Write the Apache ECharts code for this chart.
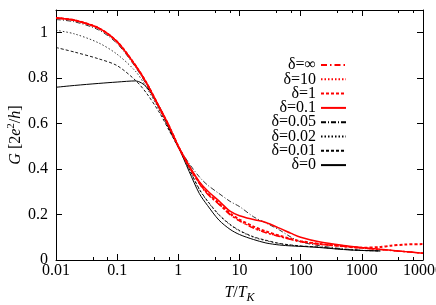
<!DOCTYPE html>
<html><head><meta charset="utf-8">
<script src="https://cdn.jsdelivr.net/npm/echarts@6/dist/echarts.min.js"></script>
<style>html,body{margin:0;padding:0;background:#fff}#c{width:436px;height:305px}</style>
</head><body><div id="c"></div>
<script>
// Temperature grid T/T_K
const T = [0.01, 0.02, 0.05, 0.1, 0.2, 0.3, 0.5, 0.7, 1, 1.5, 2.2, 3, 4.6, 7, 10, 17, 27, 45, 70, 100, 200, 500, 1000, 2000, 3000, 5000, 10000];
// Conductance G [2e^2/h] for each delta
const G_inf  = [1.065, 1.055, 1.02, 0.96, 0.855, 0.78, 0.665, 0.59, 0.5, 0.41, 0.337, 0.29, 0.245, 0.2, 0.172, 0.14, 0.12, 0.103, 0.09, 0.08, 0.07, 0.06, 0.053, 0.046, 0.042, 0.037, 0.03];
const G_10   = [1.065, 1.055, 1.02, 0.96, 0.855, 0.78, 0.665, 0.59, 0.5, 0.41, 0.338, 0.291, 0.246, 0.201, 0.173, 0.141, 0.121, 0.104, 0.09, 0.081, 0.07, 0.06, 0.053, 0.046, 0.042, 0.037, 0.03];
const G_1    = [1.065, 1.055, 1.02, 0.96, 0.855, 0.78, 0.666, 0.591, 0.5, 0.412, 0.34, 0.295, 0.25, 0.205, 0.178, 0.147, 0.126, 0.107, 0.093, 0.083, 0.071, 0.06, 0.054, 0.057, 0.063, 0.068, 0.07];
const G_01   = [1.065, 1.055, 1.02, 0.96, 0.855, 0.78, 0.668, 0.592, 0.5, 0.415, 0.345, 0.305, 0.26, 0.215, 0.195, 0.178, 0.165, 0.14, 0.117, 0.1, 0.08, 0.064, 0.055, 0.047, 0.043, 0.037, 0.03];
const G_005  = [1.058, 1.048, 1.012, 0.952, 0.848, 0.772, 0.66, 0.585, 0.5, 0.425, 0.366, 0.33, 0.293, 0.258, 0.235, 0.19, 0.163, 0.132, 0.1, 0.08, 0.063, 0.049, 0.043, 0.04, null, null, null];
const G_002  = [1.011, 0.995, 0.955, 0.905, 0.83, 0.76, 0.655, 0.575, 0.495, 0.4, 0.31, 0.258, 0.198, 0.155, 0.128, 0.1, 0.085, 0.072, 0.065, 0.061, 0.056, 0.047, 0.042, 0.04, null, null, null];
const G_001  = [0.935, 0.915, 0.885, 0.855, 0.79, 0.735, 0.645, 0.572, 0.495, 0.402, 0.312, 0.26, 0.2, 0.157, 0.13, 0.102, 0.087, 0.073, 0.066, 0.062, 0.057, 0.047, 0.042, 0.04, null, null, null];
const G_0    = [0.76, 0.768, 0.777, 0.783, 0.788, 0.762, 0.67, 0.58, 0.498, 0.39, 0.293, 0.24, 0.176, 0.135, 0.112, 0.09, 0.075, 0.066, 0.062, 0.06, 0.055, 0.046, 0.042, 0.04, null, null, null];
const names = ['δ=∞', 'δ=10', 'δ=1', 'δ=0.1', 'δ=0.05', 'δ=0.02', 'δ=0.01', 'δ=0'];
const values = [G_inf, G_10, G_1, G_01, G_005, G_002, G_001, G_0];

const FONT = 'Liberation Serif';
const styles = [
  {color: '#ff0000', width: 1.5, type: [6, 3, 1.5, 3]},
  {color: '#ff0000', width: 1.3, type: [1.5, 2]},
  {color: '#ff0000', width: 2, type: [3, 2]},
  {color: '#ff0000', width: 1.5, type: 'solid'},
  {color: '#000000', width: 0.8, type: [5, 2, 1, 2]},
  {color: '#000000', width: 0.8, type: [1.5, 2]},
  {color: '#000000', width: 0.9, type: [3, 2]},
  {color: '#000000', width: 1, type: 'solid'}
];

const chart = echarts.init(document.getElementById('c'), null, {renderer: 'canvas'});
const tickStyle = {inside: true, length: 6, lineStyle: {color: '#000', width: 1}};
const lineStyleAxis = {show: true, onZero: false, lineStyle: {color: '#000', width: 1}};
const series = names.map((n, i) => ({
  name: n,
  type: 'line',
  xAxisIndex: 0,
  yAxisIndex: 0,
  data: T.map((t, j) => [t, values[i][j]]),
  symbol: 'none',
  showSymbol: false,
  smooth: 0.3,
  color: styles[i].color,
  lineStyle: {color: styles[i].color, width: styles[i].width, type: styles[i].type},
  z: i < 4 ? 3 : 2,
  animation: false
}));

chart.setOption({
  animation: false,
  backgroundColor: '#fff',
  grid: {left: 56, right: 13, top: 10, bottom: 45, containLabel: false, outerBoundsMode: 'none'},
  legend: {
    orient: 'vertical', align: 'right', right: 89, top: 57, padding: 0,
    itemWidth: 25, itemHeight: 2, itemGap: -1.7,
    itemStyle: {opacity: 0},
    data: names,
    textStyle: {fontFamily: FONT, fontSize: 16, color: '#000', lineHeight: 14}
  },
  xAxis: [{
    type: 'log', logBase: 10, min: 0.01, max: 10000, splitNumber: 6, position: 'bottom',
    axisLine: lineStyleAxis, axisTick: tickStyle,
    minorTick: {show: true, splitNumber: 3, length: 3, lineStyle: {color: '#000', width: 1}},
    splitLine: {show: false}, minorSplitLine: {show: false},
    axisLabel: {fontFamily: FONT, fontSize: 16, color: '#000', margin: 3, hideOverlap: false,
      formatter: v => String(+Number(v).toPrecision(6))},
    name: '{i|T}/{i|T}{sub|K}', nameLocation: 'middle', nameGap: 22, nameMoveOverlap: false,
    nameTextStyle: {fontFamily: FONT, fontSize: 16, color: '#000',
      rich: {i: {fontFamily: FONT, fontStyle: 'italic', fontSize: 16, color: '#000'},
             sub: {fontFamily: FONT, fontStyle: 'italic', fontSize: 12, color: '#000', verticalAlign: 'bottom', padding: [10, 0, 0, 0]}}}
  }, {
    type: 'log', logBase: 10, min: 0.01, max: 10000, splitNumber: 6, position: 'top',
    axisLine: lineStyleAxis, axisTick: tickStyle,
    minorTick: {show: true, splitNumber: 3, length: 3, lineStyle: {color: '#000', width: 1}},
    splitLine: {show: false}, axisLabel: {show: false}
  }],
  yAxis: [{
    type: 'value', min: 0, max: 1.1, interval: 0.2, position: 'left',
    axisLine: lineStyleAxis, axisTick: tickStyle, splitLine: {show: false},
    axisLabel: {fontFamily: FONT, fontSize: 16, color: '#000', margin: 8, showMaxLabel: false,
      formatter: v => (v > 1.05 ? '' : String(+v.toFixed(1)))},
    name: '{i|G} [2{i|e}{sup|2}/{i|h}]', nameLocation: 'middle', nameGap: 31, nameRotate: 90, nameMoveOverlap: false,
    nameTextStyle: {fontFamily: FONT, fontSize: 16, color: '#000',
      rich: {i: {fontFamily: FONT, fontStyle: 'italic', fontSize: 16, color: '#000'},
             sup: {fontFamily: FONT, fontSize: 11, color: '#000', verticalAlign: 'top', padding: [0, 0, 8, 0]}}}
  }, {
    type: 'value', min: 0, max: 1.1, interval: 0.2, position: 'right',
    axisLine: lineStyleAxis, axisTick: tickStyle, splitLine: {show: false}, axisLabel: {show: false}
  }],
  series: series
});
</script></body></html>
